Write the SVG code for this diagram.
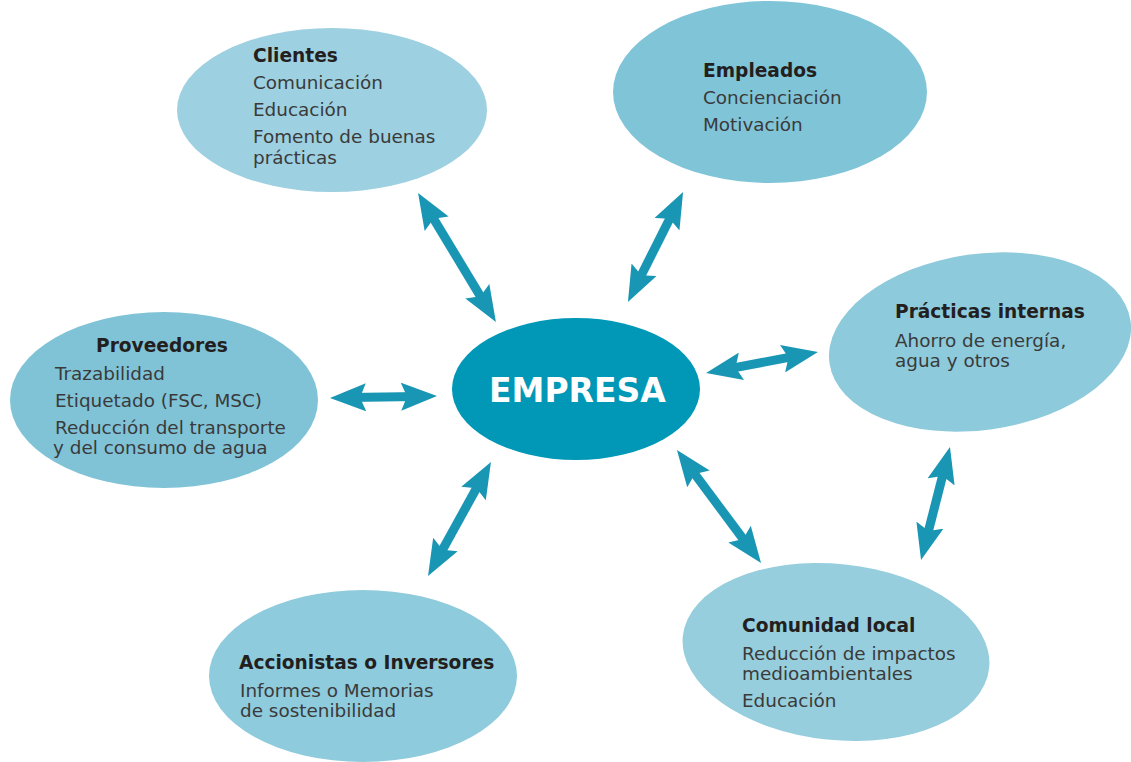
<svg xmlns="http://www.w3.org/2000/svg" width="1131" height="762" viewBox="0 0 1131 762">
<style>
.t{font-family:"DejaVu Sans",sans-serif;font-size:18.4px;fill:#3a3a3a}
.h{font-family:"DejaVu Sans",sans-serif;font-size:18.6px;font-weight:bold;fill:#231f20}
.e{font-family:"DejaVu Sans",sans-serif;font-size:33px;font-weight:bold;fill:#ffffff}
.arr{stroke:#1a96b5;stroke-width:9;fill:none;marker-start:url(#ah);marker-end:url(#ah)}
</style>
<defs>
<marker id="ah" viewBox="0 0 36 28" refX="16" refY="14" markerWidth="36" markerHeight="28" markerUnits="userSpaceOnUse" orient="auto-start-reverse">
<path d="M0,0 L36,14 L0,28 L6,14 Z" fill="#1a96b5"/>
</marker>
</defs>
<rect width="1131" height="762" fill="#ffffff"/>
<g id="connectors">
<line class="arr" x1="428.4" y1="210.1" x2="485.6" y2="304.9"/>
<line class="arr" x1="674.1" y1="209.9" x2="636.9" y2="284.1"/>
<line class="arr" x1="725.7" y1="369.3" x2="798.3" y2="355.7"/>
<line class="arr" x1="350" y1="397.6" x2="417" y2="396.4"/>
<line class="arr" x1="481.3" y1="479.5" x2="437.7" y2="558.5"/>
<line class="arr" x1="688.9" y1="466.1" x2="749.1" y2="547"/>
<line class="arr" x1="945" y1="466.4" x2="926" y2="540.6"/>
</g>
<g id="clientes">
<ellipse cx="332" cy="110" rx="155" ry="82" fill="#9dd0e0"/>
<text class="h" x="253" y="62">Clientes</text>
<text class="t" x="253" y="89">Comunicación</text>
<text class="t" x="253" y="116">Educación</text>
<text class="t" x="253" y="143">Fomento de buenas</text>
<text class="t" x="253" y="164">prácticas</text>
</g>
<g id="empleados">
<ellipse cx="770" cy="92" rx="157" ry="91" fill="#80c4d8"/>
<text class="h" x="703" y="77">Empleados</text>
<text class="t" x="703" y="104">Concienciación</text>
<text class="t" x="703" y="131">Motivación</text>
</g>
<g id="practicas">
<ellipse cx="980" cy="342" rx="152" ry="88" fill="#8dcadb" transform="rotate(-8 980 342)"/>
<text class="h" x="895" y="318">Prácticas internas</text>
<text class="t" x="895" y="347">Ahorro de energía,</text>
<text class="t" x="895" y="367">agua y otros</text>
</g>
<g id="proveedores">
<ellipse cx="164" cy="400" rx="154" ry="88" fill="#80c3d7"/>
<text class="h" x="96" y="352">Proveedores</text>
<text class="t" x="55" y="380">Trazabilidad</text>
<text class="t" x="55" y="407">Etiquetado (FSC, MSC)</text>
<text class="t" x="55" y="434">Reducción del transporte</text>
<text class="t" x="53" y="454">y del consumo de agua</text>
</g>
<g id="empresa">
<ellipse cx="576" cy="389" rx="124" ry="71" fill="#0098b6"/>
<text class="e" x="489" y="402">EMPRESA</text>
</g>
<g id="accionistas">
<ellipse cx="363" cy="676" rx="154" ry="86" fill="#8ecbdc"/>
<text class="h" x="239" y="669">Accionistas o Inversores</text>
<text class="t" x="240" y="697">Informes o Memorias</text>
<text class="t" x="240" y="717">de sostenibilidad</text>
</g>
<g id="comunidad">
<ellipse cx="836" cy="652" rx="154" ry="88" fill="#96cedd" transform="rotate(6 836 652)"/>
<text class="h" x="742" y="632">Comunidad local</text>
<text class="t" x="742" y="660">Reducción de impactos</text>
<text class="t" x="742" y="680">medioambientales</text>
<text class="t" x="742" y="707">Educación</text>
</g>
</svg>
